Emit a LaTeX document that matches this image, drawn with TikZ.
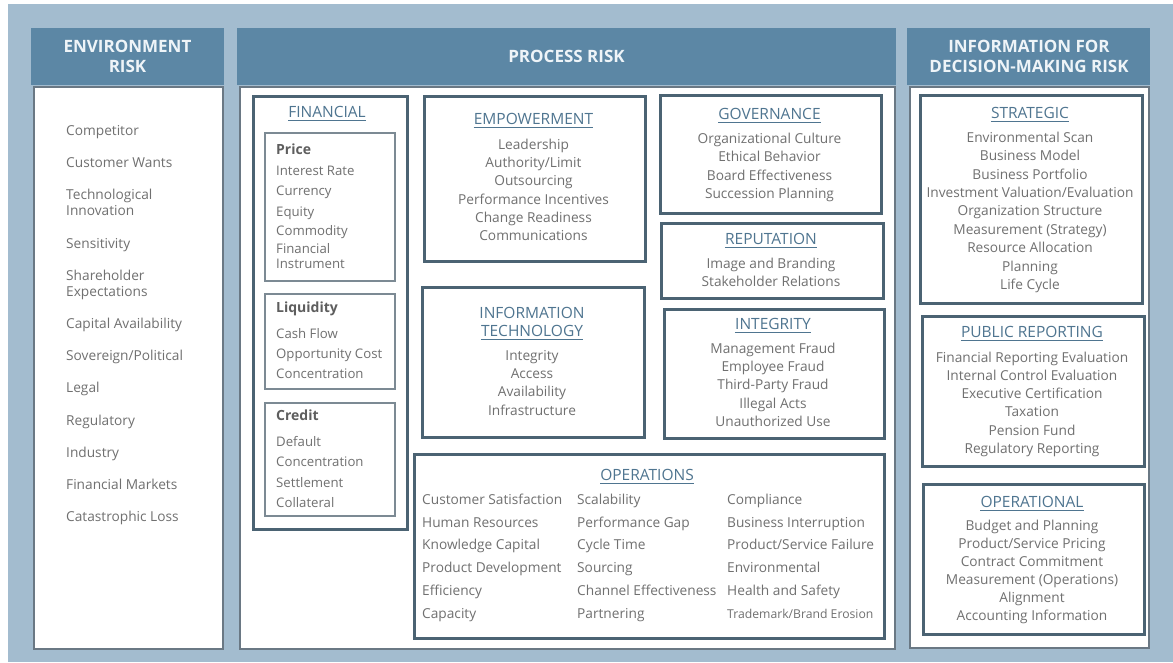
\documentclass[tikz,border=0pt]{standalone}
\usepackage{fontspec}
\setmainfont{Open Sans}
\definecolor{bgblue}{HTML}{A3BCCF}
\definecolor{headblue}{HTML}{5C87A5}
\definecolor{headtxt}{HTML}{EEF4F8}
\definecolor{bodyedge}{HTML}{6A7884}
\definecolor{boxedge}{HTML}{4B6373}
\definecolor{subedge}{HTML}{7C8A94}
\definecolor{titleblue}{HTML}{4F7590}
\definecolor{itemgray}{HTML}{707070}
\definecolor{subgray}{HTML}{5E5E5E}
\tikzset{
  panelhead/.style={fill=headblue, draw=none, inner sep=0pt, anchor=north west},
  panelbody/.style={fill=white, draw=bodyedge, line width=1.5pt, inner sep=0pt, anchor=north west},
  riskbox/.style={draw=boxedge, line width=2.6pt, fill=white, inner sep=0pt, anchor=north west},
  subbox/.style={draw=subedge, line width=1.6pt, inner sep=0pt, anchor=north west},
  headtext/.style={text=headtxt, font=\bfseries\fontsize{17}{20}\selectfont, inner sep=0pt, anchor=mid, yshift=-4pt},
  ttl/.style={text=titleblue, font=\fontsize{15.5}{18}\selectfont, inner sep=0pt, anchor=mid, yshift=-3pt},
  item/.style={text=itemgray, font=\fontsize{13.7}{16}\selectfont, inner sep=0pt, anchor=mid, yshift=-2.7pt},
  itemL/.style={item, anchor=mid west},
  finitem/.style={item, font=\fontsize{13.2}{16}\selectfont, anchor=mid west},
  envitem/.style={item, anchor=mid west},
  subttl/.style={text=subgray, font=\bfseries\fontsize{14}{16}\selectfont, inner sep=0pt, anchor=mid west, yshift=-2.7pt},
  uline/.style={draw=titleblue, line width=0.8pt},
}
\newcommand\ul[1]{\draw[uline] ([yshift=-2.8pt]#1.base west) -- ([yshift=-2.8pt]#1.base east);}
\begin{document}
\begin{tikzpicture}[x=1pt,y=-1pt]
\useasboundingbox (0,0) rectangle (1173,662);
\fill[white] (0,0) rectangle (1173,662);
\fill[bgblue] (8,4) rectangle (1173,662);

% ---------- panels ----------
\node[panelhead, minimum width=193pt, minimum height=57pt] (envH) at (31,28) {};
\node[panelbody, minimum width=189pt, minimum height=562pt] (envB) at (33,86) {};
\node[panelhead, minimum width=659pt, minimum height=57pt] (procH) at (237,28) {};
\node[panelbody, minimum width=655pt, minimum height=562pt] (procB) at (239,86) {};
\node[panelhead, minimum width=243pt, minimum height=57pt] (infH) at (907,28) {};
\node[panelbody, minimum width=239pt, minimum height=561pt] (infB) at (909,86) {};

\node[headtext] (envT1) at (127.5,46) {ENVIRONMENT};
\node[headtext] (envT2) at (127.5,66) {RISK};
\node[headtext] (procT) at (566.5,56) {PROCESS RISK};
\node[headtext] (infT1) at (1029,46) {INFORMATION FOR};
\node[headtext] (infT2) at (1029,66) {DECISION-MAKING RISK};

% ---------- environment items ----------
\node[envitem] (e1) at (66,130) {Competitor};
\node[envitem] (e2) at (66,162) {Customer Wants};
\node[envitem] (e3) at (66,194) {Technological};
\node[envitem] (e3b) at (66,210) {Innovation};
\node[envitem] (e4) at (66,243) {Sensitivity};
\node[envitem] (e5) at (66,275) {Shareholder};
\node[envitem] (e5b) at (66,291) {Expectations};
\node[envitem] (e6) at (66,323) {Capital Availability};
\node[envitem] (e7) at (66,355) {Sovereign/Political};
\node[envitem] (e8) at (66,387) {Legal};
\node[envitem] (e9) at (66,420) {Regulatory};
\node[envitem] (e10) at (66,452) {Industry};
\node[envitem] (e11) at (66,484) {Financial Markets};
\node[envitem] (e12) at (66,516) {Catastrophic Loss};

% ---------- financial ----------
\node[riskbox, minimum width=154pt, minimum height=433pt] (finB) at (252,95) {};
\node[ttl] (finT) at (327,112) {FINANCIAL}; \ul{finT}
\node[subbox, minimum width=130pt, minimum height=148pt] (priceB) at (264,132) {};
\node[subbox, minimum width=130pt, minimum height=95pt] (liqB) at (264,293) {};
\node[subbox, minimum width=130pt, minimum height=113pt] (credB) at (264,402) {};
\node[subttl] (priceT) at (276,149) {Price};
\foreach \t/\y [count=\i] in {Interest Rate/170, Currency/190, Equity/211, Commodity/230, Financial/248, Instrument/263}
  \node[finitem] (price\i) at (276,\y) {\t};
\node[subttl] (liqT) at (276,307) {Liquidity};
\foreach \t/\y [count=\i] in {Cash Flow/333, Opportunity Cost/353, Concentration/373}
  \node[finitem] (liq\i) at (276,\y) {\t};
\node[subttl] (credT) at (276,415) {Credit};
\foreach \t/\y [count=\i] in {Default/441, Concentration/461, Settlement/482, Collateral/502}
  \node[finitem] (cred\i) at (276,\y) {\t};

% ---------- empowerment ----------
\node[riskbox, minimum width=221pt, minimum height=165pt] (empB) at (423,95) {};
\node[ttl] (empT) at (533.5,119) {EMPOWERMENT}; \ul{empT}
\foreach \t [count=\i from 0] in {Leadership, Authority/Limit, Outsourcing, Performance Incentives, Change Readiness, Communications}
  \node[item] (emp\i) at (533.5,144+18.3*\i) {\t};

% ---------- information technology ----------
\node[riskbox, minimum width=222pt, minimum height=150pt] (itB) at (421,286) {};
\node[ttl] (itT1) at (532,313) {INFORMATION};
\node[ttl] (itT2) at (532,331) {TECHNOLOGY}; \ul{itT2}
\foreach \t [count=\i from 0] in {Integrity, Access, Availability, Infrastructure}
  \node[item] (it\i) at (532,355+18.3*\i) {\t};

% ---------- governance ----------
\node[riskbox, minimum width=221pt, minimum height=118pt] (govB) at (659,94) {};
\node[ttl] (govT) at (769.5,114) {GOVERNANCE}; \ul{govT}
\foreach \t [count=\i from 0] in {Organizational Culture, Ethical Behavior, Board Effectiveness, Succession Planning}
  \node[item] (gov\i) at (769.5,138+18.4*\i) {\t};

% ---------- reputation ----------
\node[riskbox, minimum width=222pt, minimum height=75pt] (repB) at (660,222) {};
\node[ttl] (repT) at (771,239) {REPUTATION}; \ul{repT}
\node[item] (rep0) at (771,263) {Image and Branding};
\node[item] (rep1) at (771,281) {Stakeholder Relations};

% ---------- integrity ----------
\node[riskbox, minimum width=220pt, minimum height=129pt] (intB) at (663,308) {};
\node[ttl] (intT) at (773,324) {INTEGRITY}; \ul{intT}
\foreach \t [count=\i from 0] in {Management Fraud, Employee Fraud, Third-Party Fraud, Illegal Acts, Unauthorized Use}
  \node[item] (int\i) at (773,348+18.3*\i) {\t};

% ---------- operations ----------
\node[riskbox, minimum width=470pt, minimum height=184pt] (opsB) at (413,453) {};
\node[ttl] (opsT) at (647,475) {OPERATIONS}; \ul{opsT}
\foreach \t [count=\i from 0] in {Customer Satisfaction, Human Resources, Knowledge Capital, Product Development, Efficiency, Capacity}
  \node[itemL] (opsA\i) at (422,499+22.8*\i) {\t};
\foreach \t [count=\i from 0] in {Scalability, Performance Gap, Cycle Time, Sourcing, Channel Effectiveness, Partnering}
  \node[itemL] (opsB\i) at (577,499+22.8*\i) {\t};
\foreach \t [count=\i from 0] in {Compliance, Business Interruption, Product/Service Failure, Environmental, Health and Safety}
  \node[itemL] (opsC\i) at (727,499+22.8*\i) {\t};
\node[itemL, font=\fontsize{12.2}{15}\selectfont] (opsC5) at (727,613) {Trademark/Brand Erosion};

% ---------- strategic ----------
\node[riskbox, minimum width=222pt, minimum height=208pt] (strB) at (919,94) {};
\node[ttl] (strT) at (1030,113) {STRATEGIC}; \ul{strT}
\foreach \t [count=\i from 0] in {Environmental Scan, Business Model, Business Portfolio, Investment Valuation/Evaluation, Organization Structure, Measurement (Strategy), Resource Allocation, Planning, Life Cycle}
  \node[item] (str\i) at (1030,137+18.4*\i) {\t};

% ---------- public reporting ----------
\node[riskbox, minimum width=222pt, minimum height=150pt] (pubB) at (921,315) {};
\node[ttl] (pubT) at (1032,332) {PUBLIC REPORTING}; \ul{pubT}
\foreach \t [count=\i from 0] in {Financial Reporting Evaluation, Internal Control Evaluation, Executive Certification, Taxation, Pension Fund, Regulatory Reporting}
  \node[item] (pub\i) at (1032,357+18.2*\i) {\t};

% ---------- operational ----------
\node[riskbox, minimum width=221pt, minimum height=150pt] (opeB) at (922,483) {};
\node[ttl] (opeT) at (1032,502) {OPERATIONAL}; \ul{opeT}
\foreach \t [count=\i from 0] in {Budget and Planning, Product/Service Pricing, Contract Commitment, Measurement (Operations), Alignment, Accounting Information}
  \node[item] (ope\i) at (1032,525+18*\i) {\t};
\end{tikzpicture}
\end{document}
